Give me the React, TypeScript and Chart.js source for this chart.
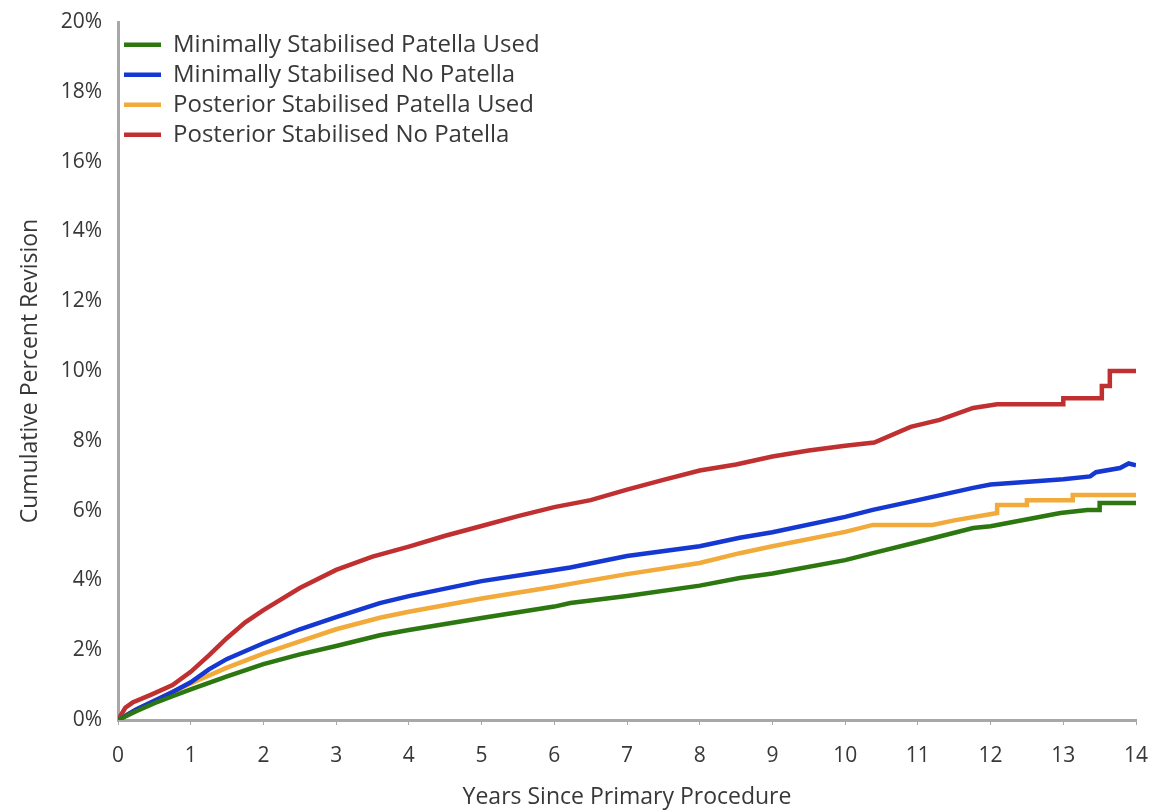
import React, { useEffect, useRef } from "react";
import { Chart, registerables } from "chart.js";

Chart.register(...registerables);

const seriesNames = [
  "Minimally Stabilised Patella Used",
  "Minimally Stabilised No Patella",
  "Posterior Stabilised Patella Used",
  "Posterior Stabilised No Patella",
];

const msPatellaYears = [0, 0.25, 0.5, 0.75, 1, 1.5, 2, 2.5, 3, 3.6, 4, 5, 6, 6.22, 7, 8, 8.55, 9, 10, 10.38, 11, 11.76, 12, 12.96, 13.33, 13.5, 13.5, 14];
const msPatellaValues = [0, 0.25, 0.48, 0.68, 0.88, 1.25, 1.6, 1.88, 2.12, 2.43, 2.58, 2.92, 3.25, 3.35, 3.55, 3.85, 4.07, 4.2, 4.58, 4.78, 5.1, 5.5, 5.55, 5.93, 6.02, 6.02, 6.22, 6.22];

const msNoPatellaYears = [0, 0.25, 0.5, 0.75, 1, 1.25, 1.5, 2, 2.5, 3, 3.6, 4, 5, 6, 6.22, 7, 8, 8.55, 9, 10, 10.38, 11, 11.76, 12, 13, 13.37, 13.45, 13.78, 13.9, 14];
const msNoPatellaValues = [0, 0.3, 0.55, 0.8, 1.08, 1.45, 1.75, 2.2, 2.6, 2.95, 3.35, 3.55, 3.98, 4.3, 4.37, 4.7, 4.98, 5.22, 5.38, 5.82, 6.02, 6.3, 6.65, 6.75, 6.9, 6.98, 7.1, 7.22, 7.35, 7.3];

const psPatellaYears = [0, 0.25, 0.5, 0.75, 1, 1.5, 2, 2.5, 3, 3.6, 4, 5, 6, 6.22, 7, 8, 8.55, 9, 10, 10.38, 11.2, 11.5, 12.09, 12.09, 12.5, 12.5, 13.13, 13.13, 14];
const psPatellaValues = [0, 0.3, 0.55, 0.8, 1.05, 1.5, 1.9, 2.25, 2.6, 2.93, 3.1, 3.48, 3.82, 3.9, 4.18, 4.5, 4.78, 4.98, 5.39, 5.59, 5.59, 5.72, 5.93, 6.16, 6.16, 6.3, 6.3, 6.45, 6.45];

const psNoPatellaYears = [0, 0.1, 0.2, 0.45, 0.75, 1, 1.25, 1.5, 1.75, 2, 2.5, 3, 3.5, 4, 4.5, 5, 5.5, 6, 6.5, 7, 7.5, 8, 8.5, 9, 9.5, 10, 10.4, 10.9, 11.3, 11.76, 12.09, 13, 13, 13.53, 13.53, 13.64, 13.64, 14];
const psNoPatellaValues = [0, 0.35, 0.5, 0.72, 1.0, 1.38, 1.85, 2.35, 2.8, 3.15, 3.78, 4.3, 4.68, 4.97, 5.28, 5.56, 5.84, 6.1, 6.3, 6.6, 6.88, 7.15, 7.32, 7.55, 7.72, 7.86, 7.95, 8.4, 8.6, 8.94, 9.05, 9.05, 9.22, 9.22, 9.57, 9.57, 10.0, 10.0];

const seriesColors = ["#2c7710", "#1538d2", "#f2aa3a", "#c03030"];

const yTickValues = [0, 2, 4, 6, 8, 10, 12, 14, 16, 18, 20];
const xTickValues = [0, 1, 2, 3, 4, 5, 6, 7, 8, 9, 10, 11, 12, 13, 14];

const FONT = "'Open Sans', 'Noto Sans', sans-serif";
const TEXT = "#383838";
const AXIS = "#a8a8a8";

function pts(xs: number[], ys: number[]) {
  return xs.map((x, i) => ({ x, y: ys[i] }));
}

export default function App() {
  const ref = useRef<HTMLCanvasElement | null>(null);

  useEffect(() => {
    if (!ref.current) return;
    const seriesData = [
      pts(msPatellaYears, msPatellaValues),
      pts(msNoPatellaYears, msNoPatellaValues),
      pts(psPatellaYears, psPatellaValues),
      pts(psNoPatellaYears, psNoPatellaValues),
    ];
    const chart = new Chart(ref.current, {
      type: "line",
      data: {
        datasets: seriesNames.map((name, i) => ({
          label: name,
          data: seriesData[i],
          borderColor: seriesColors[i],
          backgroundColor: seriesColors[i],
          borderWidth: 4.5,
          pointRadius: 0,
          tension: 0,
          fill: false,
        })),
      },
      options: {
        animation: false,
        responsive: false,
        events: [],
        layout: { padding: { top: 22, right: 18, left: 0, bottom: 0 } },
        plugins: {
          tooltip: { enabled: false },
          legend: {
            position: "chartArea" as any,
            align: "start",
            title: {
              display: true,
              text: " ",
              font: { size: 4 },
              padding: { top: 22, bottom: 0 },
            },
            labels: {
              usePointStyle: true,
              pointStyle: "line",
              pointStyleWidth: 37,
              boxHeight: 4,
              padding: 6,
              color: TEXT,
              font: { family: FONT, size: 24 },
            },
          },
        },
        scales: {
          x: {
            type: "linear",
            min: 0,
            max: 14,
            afterBuildTicks: (s: any) => {
              s.ticks = xTickValues.map((v) => ({ value: v }));
            },
            afterFit: (s: any) => {
              s.height = 92;
              s.paddingLeft = 0;
              s.paddingRight = 0;
            },
            grid: {
              display: true,
              drawOnChartArea: false,
              drawTicks: true,
              tickLength: 5,
              color: AXIS,
            },
            border: { display: true, color: AXIS, width: 3 },
            ticks: {
              color: TEXT,
              font: { family: FONT, size: 21 },
              padding: 18,
              maxRotation: 0,
            },
            title: {
              display: true,
              text: "Years Since Primary Procedure",
              color: TEXT,
              font: { family: FONT, size: 23 },
              padding: { top: 4, bottom: 1 },
            },
          },
          y: {
            type: "linear",
            min: 0,
            max: 20,
            afterBuildTicks: (s: any) => {
              s.ticks = yTickValues.map((v) => ({ value: v }));
            },
            afterFit: (s: any) => {
              s.width = 118;
              s.paddingTop = 0;
              s.paddingBottom = 0;
            },
            grid: { display: false, drawTicks: false },
            border: { display: true, color: AXIS, width: 3 },
            ticks: {
              color: TEXT,
              font: { family: FONT, size: 21 },
              padding: 16,
              callback: (v: any) => `${v}%`,
            },
            title: {
              display: true,
              text: "Cumulative Percent Revision",
              color: TEXT,
              font: { family: FONT, size: 23 },
              padding: { top: 17, bottom: 4 },
            },
          },
        },
      },
    });
    return () => chart.destroy();
  }, []);

  return (
    <div style={{ position: "fixed", left: 0, top: 0, width: 1154, height: 812, background: "#fff" }}>
      <canvas ref={ref} width={1154} height={812} style={{ width: 1154, height: 812, display: "block" }} />
    </div>
  );
}
